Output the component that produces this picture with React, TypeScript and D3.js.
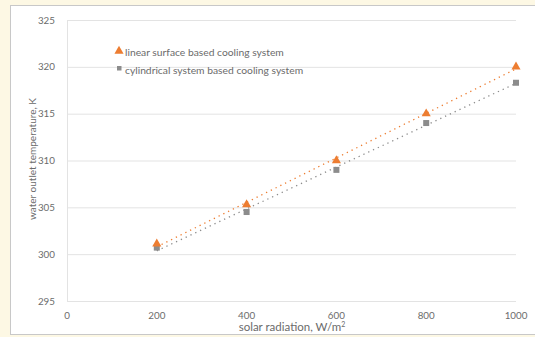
import { useRef, useEffect } from "react";
import * as d3 from "d3";

const radiation = [200, 400, 600, 800, 1000];
const linearTemps = [301.1, 305.3, 310.0, 315.0, 320.0];
const cylTemps = [300.7, 304.5, 309.0, 314.0, 318.3];
const xTicks = [0, 200, 400, 600, 800, 1000];
const yTicks = [295, 300, 305, 310, 315, 320, 325];

const ORANGE = "#ed7d31";
const GREY = "#8c8c8c";

// least squares fit for the dotted trendlines
function fit(xs: number[], ys: number[]) {
  const mx = d3.mean(xs)!;
  const my = d3.mean(ys)!;
  const b = d3.sum(xs, (x, i) => (x - mx) * (ys[i] - my)) / d3.sum(xs, (x) => (x - mx) ** 2);
  return (x: number) => my + b * (x - mx);
}

export default function App() {
  const svgRef = useRef<SVGSVGElement>(null);

  useEffect(() => {
    const width = 535;
    const height = 337;
    const svg = d3.select(svgRef.current).attr("width", width).attr("height", height);
    svg.selectAll("*").remove();

    const font = "Lato, 'Open Sans', sans-serif";
    const textCol = "#6b6b6b";

    svg.append("rect").attr("width", width).attr("height", height).attr("fill", "#fdf8e4");
    svg.append("rect")
      .attr("x", 10.5).attr("y", 5.5).attr("width", 540).attr("height", 329)
      .attr("fill", "#fff").attr("stroke", "#c8c8c8");

    const x = d3.scaleLinear().domain([0, 1000]).range([67, 516]);
    const y = d3.scaleLinear().domain([295, 325]).range([301, 20]);

    // gridlines
    svg.append("g").selectAll("line").data(yTicks).join("line")
      .attr("x1", x(0)).attr("x2", x(1000))
      .attr("y1", (d) => y(d) + 0.5).attr("y2", (d) => y(d) + 0.5)
      .attr("stroke", "#e3e3e3");
    svg.append("line")
      .attr("x1", x(0) + 0.5).attr("x2", x(0) + 0.5)
      .attr("y1", y(325)).attr("y2", y(295))
      .attr("stroke", "#e3e3e3");

    svg.append("g").selectAll("text").data(yTicks).join("text")
      .attr("x", 55).attr("y", (d) => y(d) + 3.5)
      .attr("text-anchor", "end")
      .attr("font-family", font).attr("font-size", 9.8).attr("fill", textCol)
      .text((d) => d);

    svg.append("g").selectAll("text").data(xTicks).join("text")
      .attr("x", (d) => x(d)).attr("y", 319)
      .attr("text-anchor", "middle")
      .attr("font-family", font).attr("font-size", 9.8).attr("fill", textCol)
      .text((d) => d);

    const xl = svg.append("text")
      .attr("x", 292).attr("y", 331)
      .attr("text-anchor", "middle")
      .attr("font-family", font).attr("font-size", 11.5).attr("fill", textCol)
      .text("solar radiation, W/m");
    xl.append("tspan").attr("dy", -4).attr("font-size", 7).text("2");

    svg.append("text")
      .attr("transform", "translate(36,159) rotate(-90)")
      .attr("text-anchor", "middle")
      .attr("font-family", font).attr("font-size", 10).attr("fill", textCol)
      .text("water outlet temperature, K");

    // trendlines
    const series = [
      { vals: linearTemps, color: ORANGE },
      { vals: cylTemps, color: GREY },
    ];
    series.forEach((s) => {
      const f = fit(radiation, s.vals);
      svg.append("line")
        .attr("x1", x(200)).attr("y1", y(f(200)))
        .attr("x2", x(1000)).attr("y2", y(f(1000)))
        .attr("stroke", s.color).attr("stroke-width", 1.3)
        .attr("stroke-dasharray", "1.3 4");
    });

    const tri = d3.symbol().type(d3.symbolTriangle).size(36);
    svg.append("g").selectAll("rect").data(cylTemps).join("rect")
      .attr("x", (d, i) => x(radiation[i]) - 3).attr("y", (d) => y(d) - 3)
      .attr("width", 6).attr("height", 6).attr("fill", GREY);
    svg.append("g").selectAll("path").data(linearTemps).join("path")
      .attr("d", tri)
      .attr("transform", (d, i) => `translate(${x(radiation[i])},${y(d)})`)
      .attr("fill", ORANGE);

    // legend
    svg.append("path").attr("d", tri).attr("transform", "translate(119,51)").attr("fill", ORANGE);
    svg.append("rect").attr("x", 117).attr("y", 66).attr("width", 4.5).attr("height", 4.5).attr("fill", GREY);
    svg.append("text").attr("x", 125).attr("y", 56)
      .attr("font-family", font).attr("font-size", 10.3).attr("fill", textCol)
      .text("linear surface based cooling system");
    svg.append("text").attr("x", 125).attr("y", 74)
      .attr("font-family", font).attr("font-size", 10.3).attr("fill", textCol)
      .text("cylindrical system based cooling system");
  }, []);

  return <svg ref={svgRef} style={{ position: "absolute", left: 0, top: 0 }}></svg>;
}
